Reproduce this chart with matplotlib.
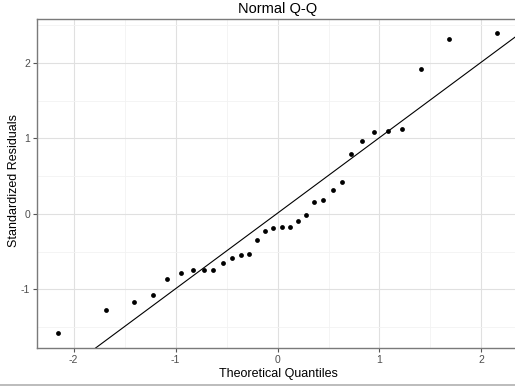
import matplotlib
matplotlib.use("Agg")
import matplotlib.pyplot as plt
from matplotlib.lines import Line2D
from matplotlib.ticker import MultipleLocator

plt.rcParams['font.family'] = ['Liberation Sans', 'DejaVu Sans']
plt.rcParams['axes.unicode_minus'] = False

# ---- datos ----
theoretical = [-2.15, -1.68, -1.41, -1.22, -1.08, -0.95, -0.83, -0.72,
               -0.63, -0.54, -0.45, -0.36, -0.28, -0.20, -0.12, -0.04,
               0.04, 0.12, 0.20, 0.28, 0.36, 0.45, 0.54, 0.63,
               0.72, 0.83, 0.95, 1.08, 1.22, 1.41, 1.68, 2.15]
residuals = [-1.57, -1.27, -1.16, -1.07, -0.86, -0.78, -0.74, -0.74,
             -0.74, -0.65, -0.58, -0.54, -0.53, -0.35, -0.22, -0.18,
             -0.17, -0.17, -0.09, -0.02, 0.16, 0.19, 0.31, 0.42,
             0.79, 0.96, 1.09, 1.10, 1.12, 1.92, 2.32, 2.39]
qq_intercept = 0.01
qq_slope = 1.0

x_ticks = [-2, -1, 0, 1, 2]
y_ticks = [-1, 0, 1, 2]

fig = plt.figure(figsize=(5.15, 3.86), dpi=100)
ax = fig.add_axes([37 / 515, 1 - 348 / 386, 1 - 37 / 515 + 0.008, (348 - 19) / 386])

ax.scatter(theoretical, residuals, s=12, color='black', zorder=3, linewidths=0)
ax.axline((0, qq_intercept), slope=qq_slope, color='black', linewidth=0.8, zorder=2)

ax.set_xlim(-2.36, 2.37)
ax.set_ylim(-1.775, 2.58)
ax.set_xticks(x_ticks)
ax.set_yticks(y_ticks)
ax.xaxis.set_minor_locator(MultipleLocator(0.5))
ax.yaxis.set_minor_locator(MultipleLocator(0.5))
ax.tick_params(which='minor', length=0)
ax.tick_params(which='major', length=3, color='#555555', labelsize=7.5,
               labelcolor='#4d4d4d', pad=2)

ax.grid(which='major', color='#e0e0e0', linewidth=0.8)
ax.grid(which='minor', color='#f2f2f2', linewidth=0.6)
ax.set_axisbelow(True)

for sp in ax.spines.values():
    sp.set_color('#7a7a7a')
    sp.set_linewidth(1.0)

ax.set_title("Normal Q-Q", fontsize=10.5, pad=4)
ax.set_xlabel("Theoretical Quantiles", fontsize=9, labelpad=2)
ax.set_ylabel("Standardized Residuals", fontsize=9, va='center')
ax.yaxis.set_label_coords(-0.047, 0.51)

# línea gris del borde inferior de la imagen
fig.add_artist(Line2D([0, 1], [1.5 / 386, 1.5 / 386], color='#b0b0b0', linewidth=1.2))

fig.savefig("out.png", dpi=100)
